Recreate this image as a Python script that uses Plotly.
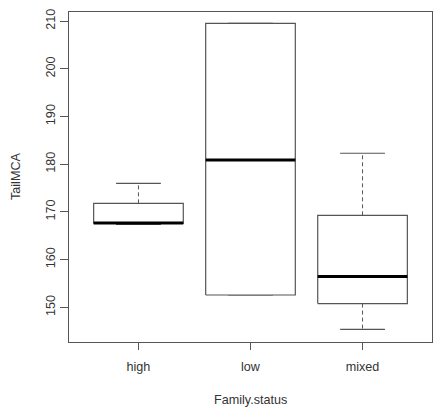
import plotly.graph_objects as go

# Five-number summaries of TailMCA by Family.status
categories = ["high", "low", "mixed"]
lower_whisker = [167.4, 152.6, 145.4]
q1 = [167.6, 152.6, 150.8]
median = [167.7, 180.9, 156.5]
q3 = [171.8, 209.5, 169.3]
upper_whisker = [176.0, 209.5, 182.3]
y_ticks = [150, 160, 170, 180, 190, 200, 210]

BOX_HALF = 0.4
CAP_HALF = 0.2
LINE = "#555555"
TEXT = "#333333"
FONT = "Liberation Sans, Arial, sans-serif"
FS = 12.6

fig = go.Figure()
for i, name in enumerate(categories):
    x = i + 1
    # dashed whiskers
    for a, b in ((q3[i], upper_whisker[i]), (q1[i], lower_whisker[i])):
        fig.add_trace(go.Scatter(x=[x, x], y=[a, b], mode="lines",
                                 line=dict(color=LINE, width=1, dash="4px,3px"),
                                 hoverinfo="skip", showlegend=False))
    # whisker caps
    for v in (upper_whisker[i], lower_whisker[i]):
        fig.add_trace(go.Scatter(x=[x - CAP_HALF, x + CAP_HALF], y=[v, v], mode="lines",
                                 line=dict(color=LINE, width=1.2),
                                 hoverinfo="skip", showlegend=False))
    # box
    fig.add_trace(go.Scatter(
        x=[x - BOX_HALF, x + BOX_HALF, x + BOX_HALF, x - BOX_HALF, x - BOX_HALF],
        y=[q1[i], q1[i], q3[i], q3[i], q1[i]],
        mode="lines", fill="toself", fillcolor="white",
        line=dict(color=LINE, width=1.2), name=name, showlegend=False))
    # median
    fig.add_trace(go.Scatter(x=[x - BOX_HALF, x + BOX_HALF], y=[median[i], median[i]],
                             mode="lines", line=dict(color="black", width=3),
                             hoverinfo="skip", showlegend=False))

fig.update_layout(
    width=433, height=413,
    margin=dict(l=69, r=1, t=12, b=71),
    plot_bgcolor="white", paper_bgcolor="white",
    font=dict(family=FONT, size=FS, color=TEXT),
    xaxis=dict(range=[0.38, 3.62], tickvals=[1, 2, 3], ticktext=categories,
               showgrid=False, zeroline=False, showline=True, mirror=True,
               linecolor=LINE, linewidth=1.3, ticks="outside", ticklen=7,
               tickcolor=LINE, tickwidth=1.2, ticklabelstandoff=6,
               tickfont=dict(size=FS, color=TEXT)),
    yaxis=dict(range=[142.75, 211.9], tickvals=y_ticks,
               showgrid=False, zeroline=False, showline=True, mirror=True,
               linecolor=LINE, linewidth=1.3, ticks="outside", ticklen=8,
               tickcolor=LINE, tickwidth=1.2, tickangle=-90,
               tickfont=dict(size=FS, color=TEXT)),
    annotations=[
        dict(text="Family.status", xref="paper", yref="paper", x=0.5, y=0,
             yshift=-58, xanchor="center", yanchor="middle", showarrow=False,
             font=dict(size=FS, color=TEXT)),
        dict(text="TailMCA", xref="paper", yref="paper", x=0, y=0.5,
             xshift=-53, xanchor="center", yanchor="middle", textangle=-90,
             showarrow=False, font=dict(size=FS, color=TEXT)),
    ],
)

fig.write_html("out.html")
